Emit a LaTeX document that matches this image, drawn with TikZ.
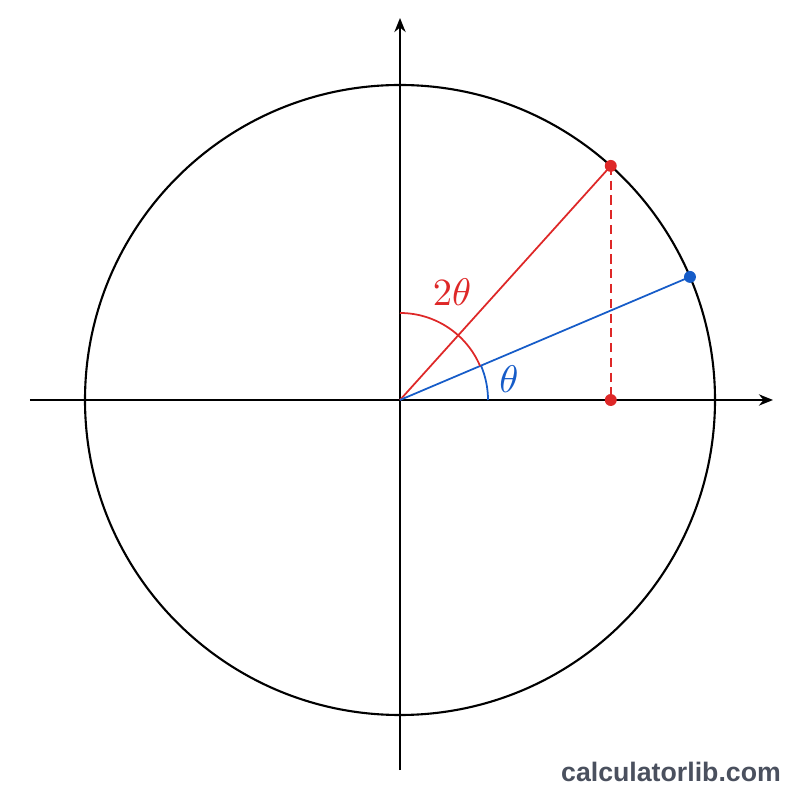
\documentclass[tikz,border=0pt]{standalone}
\usepackage{fontspec}
\newfontfamily\wmfont{Liberation Sans}
\usetikzlibrary{arrows.meta}
\definecolor{anglered}{RGB}{222,40,40}
\definecolor{angleblue}{RGB}{22,92,200}
\definecolor{wmgray}{RGB}{74,80,94}
\begin{document}
\begin{tikzpicture}[scale=1,
    axis/.style={line width=0.6pt,-{Stealth[length=4pt,width=3.2pt]}},
    dot/.style={circle,fill,inner sep=0pt,minimum size=3.4pt}]

    \useasboundingbox (-4,-4) rectangle (4,4);

    % Define the centre and the points on the circle
    \coordinate (O) at (0,0);
    \coordinate (P) at (48:3.15);
    \coordinate (Q) at (23:3.15);
    \coordinate (F) at ({3.15*cos(48)},0);

    % Draw the axes
    \draw[axis] (-3.70,0) -- (3.73,0);
    \draw[axis] (0,-3.70) -- (0,3.82);

    % Draw the unit circle
    \draw[line width=0.6pt] (O) circle (3.15);

    % Radius to 2theta (red) and its drop to the x axis
    \draw[anglered,line width=0.5pt] (O) -- (P);
    \draw[anglered,line width=0.5pt,dash pattern=on 2.6pt off 1.6pt] (P) -- (F);

    % Radius to theta (blue)
    \draw[angleblue,line width=0.5pt] (O) -- (Q);

    % --- ARCS ---
    \draw[anglered,line width=0.5pt] (O) ++(90:0.87) arc (90:23:0.87);
    \draw[angleblue,line width=0.5pt] (O) ++(0:0.88) arc (0:23:0.88);

    % Points
    \node[dot,anglered] (p) at (P) {};
    \node[dot,anglered] (f) at (F) {};
    \node[dot,angleblue] (q) at (Q) {};

    % Angle labels
    \node[anglered,font=\fontsize{11}{13}\selectfont] (lbl2) at (0.52,1.08) {$2\theta$};
    \node[angleblue,font=\fontsize{10.5}{12}\selectfont] (lbl1) at (1.09,0.21) {$\theta$};

    % Watermark
    \node[wmgray,font=\wmfont\bfseries\fontsize{7.6}{9}\selectfont] (wm) at (2.71,-3.72) {calculatorlib.com};

\end{tikzpicture}
\end{document}
